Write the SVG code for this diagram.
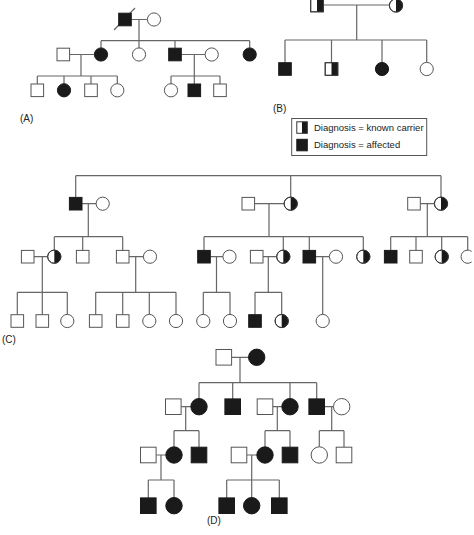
<svg xmlns="http://www.w3.org/2000/svg" xmlns:xlink="http://www.w3.org/1999/xlink" width="474" height="535" viewBox="0 0 474 535">
<style>
.o{fill:#fff;stroke:#555;stroke-width:1}
.f{fill:#1a1a1a;stroke:#1a1a1a;stroke-width:1}
.blk{fill:#1a1a1a;stroke:none}
.ln{stroke:#666;stroke-width:1.2;fill:none}
.lbl{font-family:"Liberation Sans",Arial,sans-serif;font-size:10px;fill:#222}
.leg{font-family:"Liberation Sans",Arial,sans-serif;font-size:9.5px;fill:#222}
</style>
<defs>
<rect id="sq" x="-6.3" y="-6.3" width="12.6" height="12.6" class="o"/>
<rect id="sqf" x="-6.3" y="-6.3" width="12.6" height="12.6" class="f"/>
<circle id="ci" r="6.6" class="o"/>
<circle id="cif" r="6.6" class="f"/>
<g id="sqh"><rect x="-6.3" y="-6.3" width="12.6" height="12.6" class="o"/><rect x="0" y="-6.3" width="6.3" height="12.6" class="blk"/><rect x="-6.3" y="-6.3" width="12.6" height="12.6" fill="none" stroke="#333" stroke-width="1"/></g>
<g id="cih"><circle r="6.6" class="o"/><path d="M0,-6.6 A6.6,6.6 0 0 1 0,6.6 Z" class="blk"/><circle r="6.6" fill="none" stroke="#333" stroke-width="1"/></g>
<rect id="sqD" x="-7.8" y="-7.8" width="15.6" height="15.6" class="o"/>
<rect id="sqfD" x="-7.8" y="-7.8" width="15.6" height="15.6" class="f"/>
<circle id="ciD" r="8.2" class="o"/>
<circle id="cifD" r="8.2" class="f"/>
</defs>

<g id="connectors" class="ln">
<!-- Panel A -->
<path d="M131.3,19.5H147.4M139,19.5V40.7M101,40.7H249.7M101,40.7V48M139,40.7V48M175,40.7V48M249.7,40.7V48"/>
<path d="M114,30L135,8"/>
<path d="M69.6,54.5H94.4M81,54.5V76M37.3,76H117.3M37.3,76V84M64,76V84M91,76V84M117.3,76V84"/>
<path d="M181.3,54.5H205.1M194.3,54.5V76M171,76H220M171,76V84M194.3,76V84M220,76V84"/>
<!-- Panel B -->
<path d="M323.3,5H389.4M356.7,5V40M285,40H426.7M285,40V62.7M331.5,40V62.7M382,40V62.4M426.7,40V62.4"/>
<!-- Panel C -->
<path d="M75.7,175.7H441M75.7,175.7V197.4M290.7,175.7V197.1M441,175.7V197.1"/>
<path d="M82,203.7H96.1M88.3,203.7V236.7M54.3,236.7H122.7M54.3,236.7V250.1M82.7,236.7V250.4M122.7,236.7V250.4"/>
<path d="M254.6,203.7H284.1M269,203.7V236.7M204,236.7H363.3M204,236.7V250.4M283.3,236.7V250.1M309.3,236.7V250.4M363.3,236.7V250.1"/>
<path d="M420.3,203.7H434.4M427.3,203.7V236.7M390.7,236.7H467.7M390.7,236.7V250.4M416,236.7V250.4M441.7,236.7V250.1M467.7,236.7V250.1"/>
<path d="M34,256.7H47.7M42.3,256.7V292.3M17.3,292.3H67.3M17.3,292.3V314.7M42.3,292.3V314.7M67.3,292.3V314.4"/>
<path d="M129,256.7H143.4M135.7,256.7V292.3M95.7,292.3H176M95.7,292.3V314.7M122.7,292.3V314.7M149.3,292.3V314.4M176,292.3V314.4"/>
<path d="M210.3,256.7H222.9M216.5,256.7V292.3M203.3,292.3H230M203.3,292.3V314.4M230,292.3V314.4"/>
<path d="M263,256.7H276.7M268.3,256.7V292.3M255,292.3H281.7M255,292.3V314.7M281.7,292.3V314.4"/>
<path d="M315.6,256.7H329.4M322.7,256.7V314.4"/>
<!-- Panel D -->
<path d="M231.6,357.3H248.5M240,357.3V382.7M199,382.7H316.7M199,382.7V398.5M232.7,382.7V398.9M290,382.7V398.5M316.7,382.7V398.9"/>
<path d="M181.1,406.7H190.8M185.7,406.7V430.7M174,430.7H199M174,430.7V446.8M199,430.7V447.2"/>
<path d="M272.8,406.7H281.8M277.3,406.7V430.7M265,430.7H290M265,430.7V446.8M290,430.7V447.2"/>
<path d="M324.5,406.7H333.5M331.7,406.7V430.7M319.3,430.7H344M319.3,430.7V446.8M344,430.7V447.2"/>
<path d="M156.1,455H165.8M161,455V480M148.3,480H174M148.3,480V497.9M174,480V497.5"/>
<path d="M246.8,455H256.8M251.7,455V480M226.7,480H279.3M226.7,480V497.9M251.7,480V497.5M279.3,480V497.9"/>
</g>

<!-- Panel A nodes -->
<g id="A_gf"><use href="#sqf" x="125" y="19.5"/></g>
<g id="A_gm"><use href="#ci" x="154" y="19.5"/></g>
<g id="A_s1"><use href="#sq" x="63.3" y="54.5"/></g>
<g id="A_c1"><use href="#cif" x="101" y="54.5"/></g>
<g id="A_c2"><use href="#ci" x="139" y="54.5"/></g>
<g id="A_c3"><use href="#sqf" x="175" y="54.5"/></g>
<g id="A_s2"><use href="#ci" x="211.7" y="54.5"/></g>
<g id="A_c4"><use href="#cif" x="249.7" y="54.5"/></g>
<g id="A_g1"><use href="#sq" x="37.3" y="90.3"/></g>
<g id="A_g2"><use href="#cif" x="64" y="90.3"/></g>
<g id="A_g3"><use href="#sq" x="91" y="90.3"/></g>
<g id="A_g4"><use href="#ci" x="117.3" y="90.3"/></g>
<g id="A_g5"><use href="#ci" x="171" y="90.3"/></g>
<g id="A_g6"><use href="#sqf" x="194.3" y="90.3"/></g>
<g id="A_g7"><use href="#sq" x="220" y="90.3"/></g>
<text class="lbl" x="20" y="122">(A)</text>

<!-- Panel B nodes -->
<g id="B_f"><use href="#sqh" x="317" y="5.5"/></g>
<g id="B_m"><use href="#cih" x="396" y="5.5"/></g>
<g id="B_c1"><use href="#sqf" x="285" y="69"/></g>
<g id="B_c2"><use href="#sqh" x="331.5" y="69"/></g>
<g id="B_c3"><use href="#cif" x="382" y="69"/></g>
<g id="B_c4"><use href="#ci" x="426.7" y="69"/></g>
<text class="lbl" x="273" y="112">(B)</text>

<!-- Legend -->
<g id="legend">
<rect x="291.7" y="118.5" width="135" height="37" fill="#fff" stroke="#555" stroke-width="1"/>
<rect x="296.8" y="121.8" width="10.5" height="11.5" fill="#fff"/>
<rect x="302" y="121.8" width="5.3" height="11.5" class="blk"/>
<rect x="296.8" y="121.8" width="10.5" height="11.5" fill="none" stroke="#333" stroke-width="1"/>
<text class="leg" x="314" y="131">Diagnosis = known carrier</text>
<rect x="296.8" y="139.3" width="10.5" height="11.5" class="f"/>
<text class="leg" x="314" y="148">Diagnosis = affected</text>
</g>

<!-- Panel C nodes -->
<g id="C_1a"><use href="#sqf" x="75.7" y="203.7"/></g>
<g id="C_1b"><use href="#ci" x="102.7" y="203.7"/></g>
<g id="C_1c"><use href="#sq" x="248.3" y="203.7"/></g>
<g id="C_1d"><use href="#cih" x="290.7" y="203.7"/></g>
<g id="C_1e"><use href="#sq" x="414" y="203.7"/></g>
<g id="C_1f"><use href="#cih" x="441" y="203.7"/></g>
<g id="C_2a"><use href="#sq" x="27.7" y="256.7"/></g>
<g id="C_2b"><use href="#cih" x="54.3" y="256.7"/></g>
<g id="C_2c"><use href="#sq" x="82.7" y="256.7"/></g>
<g id="C_2d"><use href="#sq" x="122.7" y="256.7"/></g>
<g id="C_2e"><use href="#ci" x="150" y="256.7"/></g>
<g id="C_2f"><use href="#sqf" x="204" y="256.7"/></g>
<g id="C_2g"><use href="#ci" x="229.5" y="256.7"/></g>
<g id="C_2h"><use href="#sq" x="256.7" y="256.7"/></g>
<g id="C_2i"><use href="#cih" x="283.3" y="256.7"/></g>
<g id="C_2j"><use href="#sqf" x="309.3" y="256.7"/></g>
<g id="C_2k"><use href="#ci" x="336" y="256.7"/></g>
<g id="C_2l"><use href="#cih" x="363.3" y="256.7"/></g>
<g id="C_2m"><use href="#sqf" x="390.7" y="256.7"/></g>
<g id="C_2n"><use href="#sq" x="416" y="256.7"/></g>
<g id="C_2o"><use href="#cih" x="441.7" y="256.7"/></g>
<g id="C_2p"><path d="M471.6,251.4A6.6,6.6 0 1 0 471.6,262" fill="#fff" stroke="#555" stroke-width="1"/></g>
<g id="C_3a"><use href="#sq" x="17.3" y="321"/></g>
<g id="C_3b"><use href="#sq" x="42.3" y="321"/></g>
<g id="C_3c"><use href="#ci" x="67.3" y="321"/></g>
<g id="C_3d"><use href="#sq" x="95.7" y="321"/></g>
<g id="C_3e"><use href="#sq" x="122.7" y="321"/></g>
<g id="C_3f"><use href="#ci" x="149.3" y="321"/></g>
<g id="C_3g"><use href="#ci" x="176" y="321"/></g>
<g id="C_3h"><use href="#ci" x="203.3" y="321"/></g>
<g id="C_3i"><use href="#ci" x="230" y="321"/></g>
<g id="C_3j"><use href="#sqf" x="255" y="321"/></g>
<g id="C_3k"><use href="#cih" x="281.7" y="321"/></g>
<g id="C_3l"><use href="#ci" x="322.7" y="321"/></g>
<text class="lbl" x="2" y="343">(C)</text>

<!-- Panel D nodes -->
<g id="D_1a"><use href="#sqD" x="223.8" y="357.3"/></g>
<g id="D_1b"><use href="#cifD" x="256.7" y="357.3"/></g>
<g id="D_2a"><use href="#sqD" x="173.3" y="406.7"/></g>
<g id="D_2b"><use href="#cifD" x="199" y="406.7"/></g>
<g id="D_2c"><use href="#sqfD" x="232.7" y="406.7"/></g>
<g id="D_2d"><use href="#sqD" x="265" y="406.7"/></g>
<g id="D_2e"><use href="#cifD" x="290" y="406.7"/></g>
<g id="D_2f"><use href="#sqfD" x="316.7" y="406.7"/></g>
<g id="D_2g"><use href="#ciD" x="341.7" y="406.7"/></g>
<g id="D_3a"><use href="#sqD" x="148.3" y="455"/></g>
<g id="D_3b"><use href="#cifD" x="174" y="455"/></g>
<g id="D_3c"><use href="#sqfD" x="199" y="455"/></g>
<g id="D_3d"><use href="#sqD" x="239" y="455"/></g>
<g id="D_3e"><use href="#cifD" x="265" y="455"/></g>
<g id="D_3f"><use href="#sqfD" x="290" y="455"/></g>
<g id="D_3g"><use href="#ciD" x="319.3" y="455"/></g>
<g id="D_3h"><use href="#sqD" x="344" y="455"/></g>
<g id="D_4a"><use href="#sqfD" x="148.3" y="505.7"/></g>
<g id="D_4b"><use href="#cifD" x="174" y="505.7"/></g>
<g id="D_4c"><use href="#sqfD" x="226.7" y="505.7"/></g>
<g id="D_4d"><use href="#cifD" x="251.7" y="505.7"/></g>
<g id="D_4e"><use href="#sqfD" x="279.3" y="505.7"/></g>
<text class="lbl" x="207" y="524">(D)</text>
</svg>
